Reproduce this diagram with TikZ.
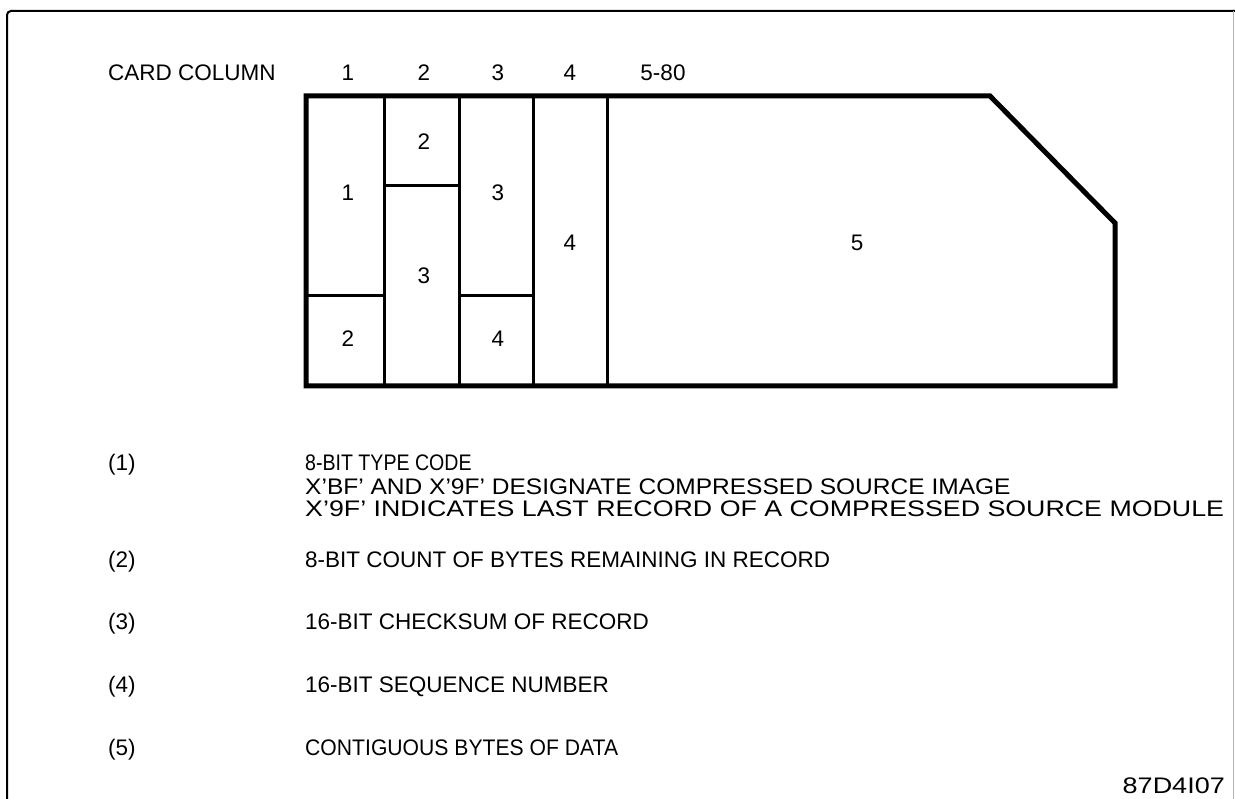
\documentclass[tikz,border=0pt]{standalone}
\usepackage{fontspec}
\setmainfont{Liberation Sans}
\usetikzlibrary{positioning}

\begin{document}
\begin{tikzpicture}[x=1pt,y=-1pt,
  every node/.style={font=\fontsize{22.5}{26}\selectfont,inner sep=0pt},
  cardline/.style={line width=5pt,line join=miter},
  cellline/.style={line width=3pt},
  legend/.style={anchor=base west,align=left}]
\useasboundingbox (0,0) rectangle (1235,799);
% outer frame
\draw[line width=2pt,rounded corners=4pt] (7,805) -- (7,11) -- (1240,11);
\draw[line width=1pt,gray!60] (1233,11) -- (1233,805);
% header
\node[anchor=base west] (hdr) at (108,81) {CARD COLUMN};
\node[anchor=base] (c1) at (348,81) {1};
\node[anchor=base] (c2) at (424,81) {2};
\node[anchor=base] (c3) at (498,81) {3};
\node[anchor=base] (c4) at (570,81) {4};
\node[anchor=base] (c5) at (663,81) {5-80};
% card
\draw[cellline] (384,96) -- (384,386);
\draw[cellline] (459,96) -- (459,386);
\draw[cellline] (533,96) -- (533,386);
\draw[cellline] (607,96) -- (607,386);
\draw[cellline] (306,296) -- (384,296);
\draw[cellline] (384,186) -- (459,186);
\draw[cellline] (459,296) -- (533,296);
\draw[cardline] (306,96) -- (990,96) -- (1115,223) -- (1115,386) -- (306,386) -- cycle;
% fields
\node (f1) at (348,193) {1};
\node (f2a) at (348,339) {2};
\node (f2b) at (424,142) {2};
\node (f3a) at (424,276) {3};
\node (f3b) at (498,193) {3};
\node (f4a) at (498,339) {4};
\node (f4b) at (570,243) {4};
\node (f5) at (857,243) {5};
% legend
\node[legend] (k1) at (108,471) {(1)};
\node[legend] (t1a) at (305,471) {\scalebox{0.87}[1]{8-BIT TYPE CODE}};
\node[legend] (t1b) at (305,494) {\scalebox{1.09}[1]{X'BF' AND X'9F' DESIGNATE COMPRESSED SOURCE IMAGE}};
\node[legend] (t1c) at (305,516) {\scalebox{1.19}[1]{X'9F' INDICATES LAST RECORD OF A COMPRESSED SOURCE MODULE}};
\node[legend] (k2) at (108,567) {(2)};
\node[legend] (t2) at (305,567) {8-BIT COUNT OF BYTES REMAINING IN RECORD};
\node[legend] (k3) at (108,629) {(3)};
\node[legend] (t3) at (305,629) {16-BIT CHECKSUM OF RECORD};
\node[legend] (k4) at (108,692) {(4)};
\node[legend] (t4) at (305,692) {16-BIT SEQUENCE NUMBER};
\node[legend] (k5) at (108,755) {(5)};
\node[legend] (t5) at (305,755) {\scalebox{0.94}[1]{CONTIGUOUS BYTES OF DATA}};
\node[anchor=base east] (fig) at (1225,793) {\scalebox{1.2}[1]{87D4I07}};
\end{tikzpicture}
\end{document}
